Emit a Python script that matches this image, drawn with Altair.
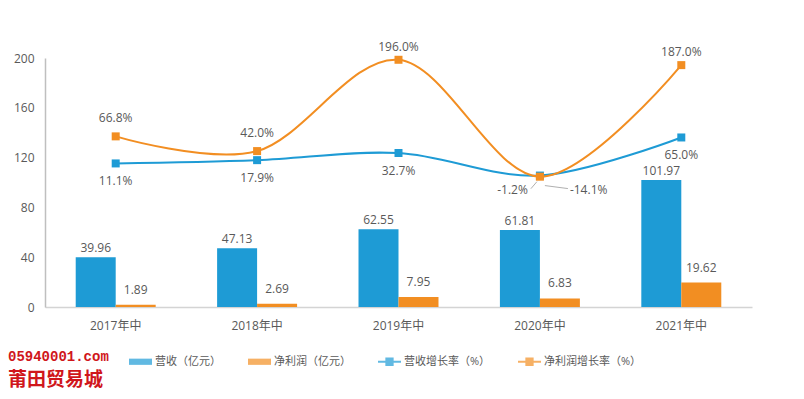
import altair as alt
import pandas as pd

categories = ["2017年中", "2018年中", "2019年中", "2020年中", "2021年中"]
revenue = [39.96, 47.13, 62.55, 61.81, 101.97]
profit = [1.89, 2.69, 7.95, 6.83, 19.62]
rev_growth = [11.1, 17.9, 32.7, -14.1, 65.0]
profit_growth = [66.8, 42.0, 196.0, -1.2, 187.0]
series_names = ["营收（亿元）", "净利润（亿元）", "营收增长率（%）", "净利润增长率（%）"]
y_ticks = [0, 40, 80, 120, 160, 200]

BLUE = "#1E9BD5"
ORANGE = "#F28E22"
GRAY = "#595959"
FONT = "Open Sans, Noto Sans CJK SC, sans-serif"

bar_df = pd.DataFrame(
    [{"category": c, "series": series_names[0], "value": v} for c, v in zip(categories, revenue)]
    + [{"category": c, "series": series_names[1], "value": v} for c, v in zip(categories, profit)]
)
rev_df = pd.DataFrame({"category": categories, "g": rev_growth})
prof_df = pd.DataFrame({"category": categories, "g": profit_growth})
legend_df = pd.DataFrame({"series": series_names})

bar_path = "M-1,-0.27H1V0.27H-1Z"
line_path = "M-1,-0.09H1V0.09H-1Z M-0.36,-0.36H0.36V0.36H-0.36Z"

color_scale = alt.Scale(domain=series_names, range=[BLUE, ORANGE, BLUE, ORANGE])
shape_scale = alt.Scale(domain=series_names, range=[bar_path, bar_path, line_path, line_path])

legend_def = alt.Legend(
    title=None, orient="none", legendX=84, legendY=292, direction="horizontal",
    columns=4, labelFont=FONT, labelFontSize=11, labelColor=GRAY,
    symbolSize=529, symbolStrokeWidth=0, labelOffset=3, columnPadding=27,
)

X = alt.X("category:N", sort=categories, title=None,
          scale=alt.Scale(paddingInner=0, paddingOuter=0),
          axis=alt.Axis(labelAngle=0, ticks=False, domainColor="#d4d4d4", domainWidth=1.5,
                        labelPadding=13, labelFont=FONT, labelFontSize=12, labelColor=GRAY))
Xs = alt.X("category:N", sort=categories)

xoff = alt.XOffset("series:N", sort=series_names[:2],
                   scale=alt.Scale(paddingOuter=0.768, paddingInner=0))
Ybar = alt.Y("value:Q", title=None, scale=alt.Scale(domain=[0, 200], nice=False),
             axis=alt.Axis(values=y_ticks, grid=False, ticks=False, domainColor="#bfbfbf",
                           domainWidth=1.5, labelPadding=11, labelFont=FONT,
                           labelFontSize=12, labelColor=GRAY))
Ybar_noaxis = alt.Y("value:Q", scale=alt.Scale(domain=[0, 200], nice=False), axis=None)

bars = alt.Chart(bar_df).mark_bar().encode(
    x=X, xOffset=xoff, y=Ybar,
    color=alt.Color("series:N", scale=color_scale, legend=legend_def),
)

bar_text_rev = alt.Chart(bar_df).transform_filter(
    alt.datum.series == series_names[0]
).mark_text(dy=-9, font=FONT, fontSize=12, color=GRAY, baseline="middle").encode(
    x=Xs, xOffset=xoff, y=Ybar_noaxis,
    text=alt.Text("value:Q", format=".2f"),
)
bar_text_prof = alt.Chart(bar_df).transform_filter(
    alt.datum.series == series_names[1]
).mark_text(dy=-15, font=FONT, fontSize=12, color=GRAY, baseline="middle").encode(
    x=Xs, xOffset=xoff, y=Ybar_noaxis,
    text=alt.Text("value:Q", format=".2f"),
)

Yrev = alt.Y("g:Q", scale=alt.Scale(domain=[-287, 230], nice=False, zero=False), axis=None)
Yprof = alt.Y("g:Q", scale=alt.Scale(domain=[-221, 199], nice=False, zero=False), axis=None)

rev_line = alt.Chart(rev_df).mark_line(
    color=BLUE, strokeWidth=2, interpolate="cardinal",
    point=alt.OverlayMarkDef(shape="square", size=64, filled=True, color=BLUE, opacity=1),
).encode(x=Xs, y=Yrev)

prof_line = alt.Chart(prof_df).mark_line(
    color=ORANGE, strokeWidth=2, interpolate="cardinal",
    point=alt.OverlayMarkDef(shape="square", size=64, filled=True, color=ORANGE, opacity=1),
).encode(x=Xs, y=Yprof)

lab = "replace(format(datum.g, '.1f'), '\u2212', '-') + '%'"

rev_lab = alt.Chart(rev_df).transform_calculate(lab=lab).transform_filter(
    alt.datum.category != "2020年中"
).mark_text(dy=18, font=FONT, fontSize=12, color=GRAY, baseline="middle").encode(
    x=Xs, y=Yrev, text="lab:N")
rev_lab_2020 = alt.Chart(rev_df).transform_calculate(lab=lab).transform_filter(
    alt.datum.category == "2020年中"
).mark_text(dx=30, dy=14, align="left", font=FONT, fontSize=12, color=GRAY, baseline="middle").encode(
    x=Xs, y=Yrev, text="lab:N")
rev_leader = alt.Chart(rev_df).transform_filter(
    alt.datum.category == "2020年中"
).mark_rule(color="#b0b0b0", strokeWidth=1, xOffset=5, x2Offset=28, yOffset=10, y2Offset=13).encode(
    x=Xs, x2="category:N", y=Yrev, y2="g:Q")

prof_lab_hi = alt.Chart(prof_df).transform_calculate(lab=lab).transform_filter(
    alt.FieldOneOfPredicate(field="category", oneOf=["2017年中", "2018年中"])
).mark_text(dy=-18, font=FONT, fontSize=12, color=GRAY, baseline="middle").encode(
    x=Xs, y=Yprof, text="lab:N")
prof_lab_top = alt.Chart(prof_df).transform_calculate(lab=lab).transform_filter(
    alt.FieldOneOfPredicate(field="category", oneOf=["2019年中", "2021年中"])
).mark_text(dy=-13, font=FONT, fontSize=12, color=GRAY, baseline="middle").encode(
    x=Xs, y=Yprof, text="lab:N")
prof_lab_2020 = alt.Chart(prof_df).transform_calculate(lab=lab).transform_filter(
    alt.datum.category == "2020年中"
).mark_text(dx=-12, dy=13, align="right", font=FONT, fontSize=12, color=GRAY, baseline="middle").encode(
    x=Xs, y=Yprof, text="lab:N")
prof_leader = alt.Chart(prof_df).transform_filter(
    alt.datum.category == "2020年中"
).mark_rule(color="#b0b0b0", strokeWidth=1, xOffset=-9, x2Offset=-3, yOffset=12, y2Offset=5).encode(
    x=Xs, x2="category:N", y=Yprof, y2="g:Q")

legend_layer = alt.Chart(legend_df).transform_filter("false").mark_point(filled=True).encode(
    color=alt.Color("series:N", scale=color_scale, legend=legend_def),
    shape=alt.Shape("series:N", scale=shape_scale, legend=legend_def),
)

wm1 = alt.Chart(legend_df).transform_filter(alt.datum.series == series_names[0]).mark_text(
    text="05940001.com", font="Liberation Mono", fontWeight="bold", fontSize=14,
    color="#D0161B", align="left", baseline="middle",
).encode(x=alt.value(-37), y=alt.value(299))
wm2 = alt.Chart(legend_df).transform_filter(alt.datum.series == series_names[0]).mark_text(
    text="莆田贸易城", font="Noto Sans CJK SC", fontWeight="bold", fontSize=19,
    color="#D0161B", align="left", baseline="middle",
).encode(x=alt.value(-37), y=alt.value(322))

chart = alt.layer(
    bars, bar_text_rev, bar_text_prof,
    rev_line, prof_line, rev_leader, prof_leader,
    rev_lab, rev_lab_2020, prof_lab_hi, prof_lab_top, prof_lab_2020,
    legend_layer, wm1, wm2,
).resolve_scale(y="independent").properties(
    width=707, height=249,
    autosize=alt.AutoSizeParams(type="none"),
    padding={"left": 37, "top": 50, "right": 44, "bottom": 84},
).configure(background="white", view=alt.ViewConfig(stroke=None))

chart.save("out.html", embed_options={"renderer": "svg", "actions": False})
